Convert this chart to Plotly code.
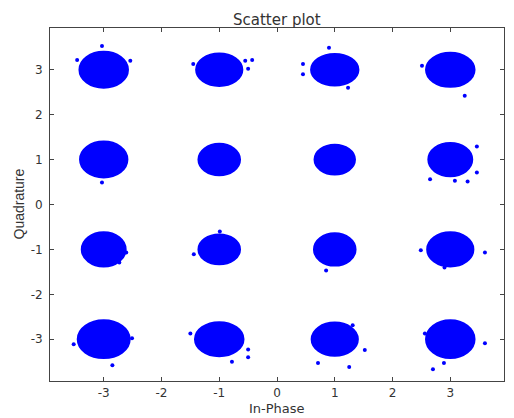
import plotly.graph_objects as go

# 16-QAM constellation: cluster centres (In-Phase, Quadrature)
in_phase   = [-3, -1, 1, 3, -3, -1, 1, 3, -3, -1, 1, 3, -3, -1, 1, 3]
quadrature = [3, 3, 3, 3, 1, 1, 1, 1, -1, -1, -1, -1, -3, -3, -3, -3]
# approximate extent of each cluster's dense core (half-width in I and Q)
spread_i = [0.42, 0.40, 0.41, 0.42, 0.41, 0.36, 0.35, 0.38,
            0.38, 0.36, 0.36, 0.40, 0.45, 0.42, 0.40, 0.42]
spread_q = [0.40, 0.36, 0.35, 0.38, 0.40, 0.35, 0.33, 0.37,
            0.38, 0.33, 0.36, 0.38, 0.42, 0.38, 0.37, 0.42]

# stray symbols
stray_i = [-3.46, -3.03, -2.54, -1.45, -0.50, -0.55, -3.03,
           0.45, 0.45, 1.23, 0.90, -0.43, 3.25, 2.51,
           2.65, 3.08, 3.30, 3.46, 3.46,
           -2.61, -2.73, -1.44, -0.99, 0.85, 2.49, 3.60, 2.90,
           -2.85, -2.51, -3.52, -1.50, -0.78, -0.50, -0.50,
           0.71, 1.25, 1.52, 1.31, 2.70, 2.56, 3.60, 2.89]
stray_q = [3.22, 3.53, 3.20, 3.13, 3.02, 3.20, 0.49,
           3.13, 2.90, 2.60, 3.49, 3.22, 2.42, 3.09,
           0.56, 0.53, 0.51, 1.29, 0.71,
           -1.07, -1.29, -1.11, -0.60, -1.47, -1.02, -1.07, -1.40,
           -3.58, -2.98, -3.11, -2.87, -3.50, -3.40, -3.23,
           -3.53, -3.62, -3.24, -2.69, -3.67, -2.87, -3.09, -3.53]

tick_vals = [-3, -2, -1, 0, 1, 2, 3]
tick_text = ["-3", "-2", "-1", "0", "1", "2", "3"]

BLUE = "#0000ff"
TEXT = "#333333"
fig = go.Figure()

fig.add_trace(go.Scatter(x=in_phase, y=quadrature, mode="markers",
                         marker=dict(color=BLUE, size=4), showlegend=False))
fig.add_trace(go.Scatter(x=stray_i, y=stray_q, mode="markers",
                         marker=dict(color=BLUE, size=4), showlegend=False))

shapes = []
for cx, cy, sx, sy in zip(in_phase, quadrature, spread_i, spread_q):
    shapes.append(dict(type="circle", xref="x", yref="y",
                       x0=cx - sx, x1=cx + sx, y0=cy - sy, y1=cy + sy,
                       fillcolor=BLUE, line=dict(color=BLUE, width=2),
                       layer="above"))

axis_common = dict(showgrid=False, zeroline=False, ticks="inside", ticklen=4,
                   tickcolor="#444", showline=True, linecolor="#444",
                   linewidth=1, mirror="ticks", automargin=False,
                   tickvals=tick_vals, ticktext=tick_text,
                   range=[-3.93, 3.93],
                   tickfont=dict(family="DejaVu Sans", size=12, color=TEXT))

fig.update_layout(
    width=506, height=410,
    margin=dict(l=42, r=10, t=20, b=37),
    paper_bgcolor="white", plot_bgcolor="white",
    shapes=shapes,
    xaxis=dict(ticklabelstandoff=1, **axis_common),
    yaxis=dict(ticklabelstandoff=4, **axis_common),
    annotations=[
        dict(text="Scatter plot", xref="paper", yref="paper", x=0.5, y=1,
             yshift=8, xanchor="center", yanchor="middle", showarrow=False,
             font=dict(family="DejaVu Sans", size=15, color=TEXT)),
        dict(text="In-Phase", xref="paper", yref="paper", x=0.5, y=0,
             yshift=-18, xanchor="center", yanchor="top", showarrow=False,
             font=dict(family="DejaVu Sans", size=13, color=TEXT)),
        dict(text="Quadrature", xref="paper", yref="paper", x=0, y=0.5,
             xshift=-32, xanchor="center", yanchor="middle", textangle=-90,
             showarrow=False,
             font=dict(family="Liberation Sans", size=14, color=TEXT)),
    ],
)

fig.write_html("out.html")
